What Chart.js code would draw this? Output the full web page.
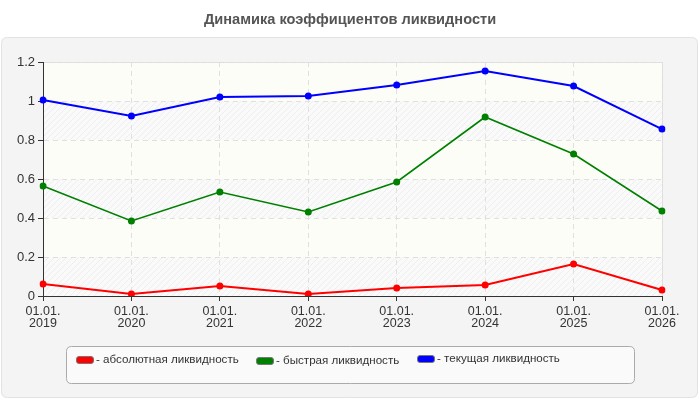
<!DOCTYPE html>
<html>
<head>
<meta charset="utf-8">
<script src="https://cdn.jsdelivr.net/npm/chart.js@4.4.1/dist/chart.umd.min.js"></script>
<style>
  html, body { margin: 0; padding: 0; background: #fff; }
  #wrap { width: 700px; height: 400px; }
</style>
</head>
<body>
<div id="wrap"><canvas id="chart"></canvas></div>
<script>
// data
var years = ["2019", "2020", "2021", "2022", "2023", "2024", "2025", "2026"];
var absolute = [0.062, 0.01, 0.051, 0.01, 0.041, 0.056, 0.164, 0.031];
var quick = [0.564, 0.385, 0.533, 0.431, 0.585, 0.918, 0.728, 0.436];
var current = [1.005, 0.923, 1.02, 1.026, 1.082, 1.154, 1.077, 0.856];
var seriesNames = ["- абсолютная ликвидность", "- быстрая ликвидность", "- текущая ликвидность"];
var title = "Динамика коэффициентов ликвидности";

var labels = years.map(function (y) { return ["01.01.", y]; });

function roundRect(ctx, x, y, w, h, r) {
    ctx.beginPath();
    ctx.moveTo(x + r, y);
    ctx.lineTo(x + w - r, y);
    ctx.quadraticCurveTo(x + w, y, x + w, y + r);
    ctx.lineTo(x + w, y + h - r);
    ctx.quadraticCurveTo(x + w, y + h, x + w - r, y + h);
    ctx.lineTo(x + r, y + h);
    ctx.quadraticCurveTo(x, y + h, x, y + h - r);
    ctx.lineTo(x, y + r);
    ctx.quadraticCurveTo(x, y, x + r, y);
    ctx.closePath();
}

function hatchPattern(ctx) {
    var c = document.createElement("canvas");
    c.width = 6;
    c.height = 6;
    var p = c.getContext("2d");
    p.fillStyle = "#fafafa";
    p.fillRect(0, 0, 6, 6);
    p.strokeStyle = "#eeeeee";
    p.lineWidth = 1;
    p.beginPath();
    p.moveTo(0, 6); p.lineTo(6, 0);
    p.moveTo(-3, 3); p.lineTo(3, -3);
    p.moveTo(3, 9); p.lineTo(9, 3);
    p.stroke();
    return ctx.createPattern(c, "repeat");
}

// panel, title and striped plot background
var background = {
    id: "background",
    beforeDraw: function (chart) {
        var ctx = chart.ctx;
        var a = chart.chartArea;
        var y = chart.scales.y;
        ctx.save();
        ctx.fillStyle = "#fff";
        ctx.fillRect(0, 0, chart.width, chart.height);

        roundRect(ctx, 1.5, 37.5, chart.width - 4, chart.height - 40, 6);
        ctx.fillStyle = "#f4f4f4";
        ctx.fill();
        ctx.strokeStyle = "#e2e2e2";
        ctx.lineWidth = 1;
        ctx.stroke();

        ctx.fillStyle = "#555";
        ctx.font = "bold 14.6px 'Liberation Sans', Arial, sans-serif";
        ctx.textAlign = "center";
        ctx.textBaseline = "middle";
        ctx.fillText(title, chart.width / 2, 20);

        var hatch = hatchPattern(ctx);
        var step = 0.2;
        for (var i = 0; i < 6; i++) {
            var top = y.getPixelForValue((i + 1) * step);
            var bottom = y.getPixelForValue(i * step);
            ctx.fillStyle = i % 2 === 0 ? hatch : "#fdfdf7";
            ctx.fillRect(a.left, top, a.right - a.left, bottom - top);
        }
        ctx.strokeStyle = "#dddddd";
        ctx.strokeRect(a.left + 0.5, a.top + 0.5, a.right - a.left, a.bottom - a.top);
        ctx.restore();
    }
};

// legend in a rounded box
var boxLegend = {
    id: "boxLegend",
    afterDraw: function (chart) {
        var ctx = chart.ctx;
        ctx.save();
        roundRect(ctx, 66.5, 346.5, 568, 37, 5);
        ctx.fillStyle = "#fafafa";
        ctx.fill();
        ctx.strokeStyle = "#aaaaaa";
        ctx.lineWidth = 1;
        ctx.stroke();

        var xs = [76, 256, 417];
        var ys = [360, 361, 359];
        ctx.font = "11.6px 'Liberation Sans', Arial, sans-serif";
        ctx.textBaseline = "middle";
        ctx.textAlign = "left";
        chart.data.datasets.forEach(function (ds, i) {
            roundRect(ctx, xs[i] + 0.5, ys[i] - 3.5, 17, 7, 2.5);
            ctx.fillStyle = ds.borderColor;
            ctx.fill();
            ctx.strokeStyle = "#777";
            ctx.stroke();
            ctx.fillStyle = "#333";
            ctx.fillText(ds.label, xs[i] + 20, ys[i]);
        });
        ctx.restore();
    }
};

var ctx = document.getElementById("chart").getContext("2d");
var myChart = new Chart(ctx, {
    type: "line",
    data: {
        labels: labels,
        datasets: [
            {
                label: seriesNames[0],
                data: absolute,
                borderColor: "#ff0000",
                backgroundColor: "#ff0000",
                borderWidth: 2,
                pointRadius: 3.5,
                pointBorderWidth: 0,
                pointHoverRadius: 3.5,
            },
            {
                label: seriesNames[1],
                data: quick,
                borderColor: "#008000",
                backgroundColor: "#008000",
                borderWidth: 1.6,
                pointRadius: 3.5,
                pointBorderWidth: 0,
                pointHoverRadius: 3.5,
            },
            {
                label: seriesNames[2],
                data: current,
                borderColor: "#0000ff",
                backgroundColor: "#0000ff",
                borderWidth: 2,
                pointRadius: 3.5,
                pointBorderWidth: 0,
                pointHoverRadius: 3.5,
            },
        ],
    },
    options: {
        responsive: true,
        maintainAspectRatio: false,
        animation: false,
        layout: {
            padding: { top: 62, left: 0, right: 38, bottom: 60 },
        },
        plugins: {
            legend: { display: false },
            title: { display: false },
            tooltip: { enabled: false },
        },
        scales: {
            x: {
                offset: false,
                afterFit: function (scale) { scale.height = 44; },
                grid: {
                    color: "#e0e0e0",
                    tickColor: "#333",
                    tickLength: 5,
                },
                border: { color: "#333", width: 1, dash: [5, 4] },
                ticks: {
                    color: "#333",
                    padding: 4,
                    maxRotation: 0,
                    autoSkip: false,
                    font: { family: "'Liberation Sans', Arial, sans-serif", size: 12.5, lineHeight: 1.0 },
                },
            },
            y: {
                min: 0,
                max: 1.2,
                afterFit: function (scale) { scale.width = 43; },
                grid: {
                    color: "#e0e0e0",
                    tickColor: "#333",
                    tickLength: 5,
                },
                border: { color: "#333", width: 1, dash: [5, 4] },
                ticks: {
                    stepSize: 0.2,
                    color: "#333",
                    padding: 3,
                    font: { family: "'Liberation Sans', Arial, sans-serif", size: 13 },
                    callback: function (v) { return Math.round(v * 10) / 10; },
                },
            },
        },
    },
    plugins: [background, boxLegend],
});
</script>
</body>
</html>
